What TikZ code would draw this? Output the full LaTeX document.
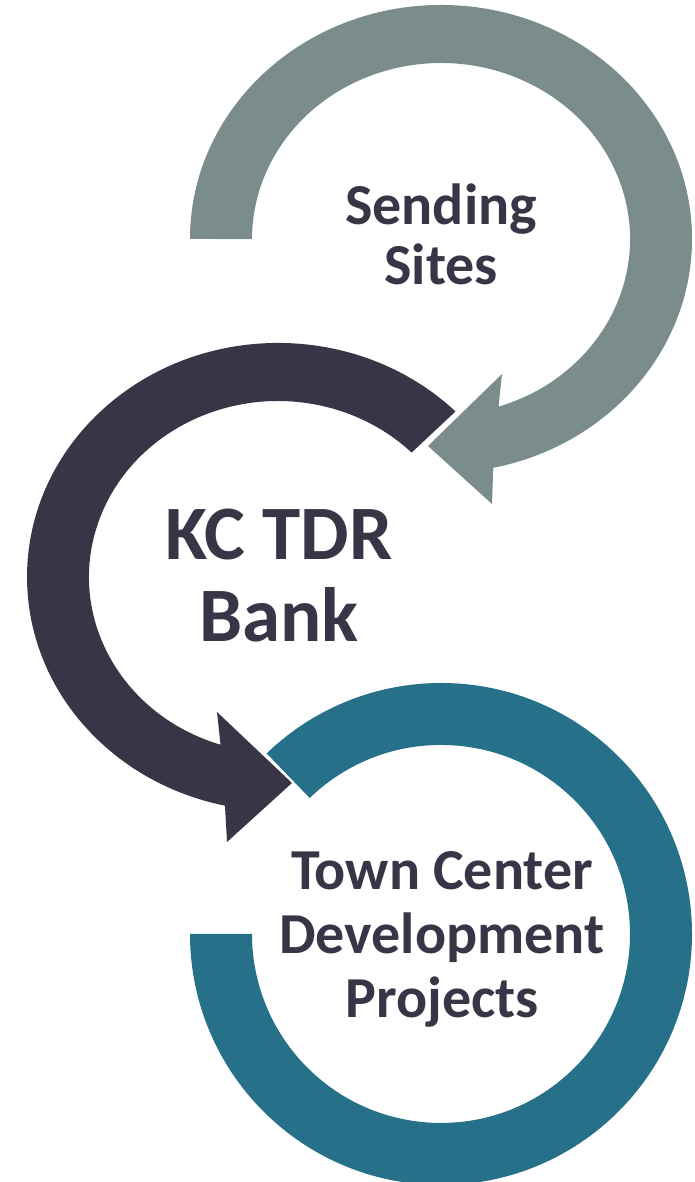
\documentclass[tikz,border=0pt]{standalone}
\usepackage{fontspec}
\setmainfont{Carlito}
\usepackage{xcolor}
\usepackage{tikz}
\definecolor{SageGray}{RGB}{122,140,140}
\definecolor{InkBlue}{RGB}{56,53,70}
\definecolor{HarborTeal}{RGB}{39,112,138}

\begin{document}
\begin{tikzpicture}[x=1pt, y=1pt,
    ringtext/.style={align=center, text=InkBlue, inner sep=0pt, anchor=base}]
  \useasboundingbox (0,0) rectangle (694,1182);
  % sending sites ring, head at lower right
  \fill[SageGray] (190,943) arc[start angle=180, end angle=-78, x radius=251, y radius=234]
    -- (492,678) -- (428,736) -- (502,808) -- (498.5,775.3)
    arc[start angle=-72.3, end angle=180, x radius=189, y radius=176] -- cycle;
  % bank ring, head at lower left
  \fill[InkBlue] (455.5,770.5) arc[start angle=45, end angle=257.8, x radius=251, y radius=234]
    -- (227,340) -- (292,399) -- (217,470) -- (220.5,437.3)
    arc[start angle=252.3, end angle=45, x radius=189, y radius=176] -- cycle;
  % projects ring
  \fill[HarborTeal] (190,248) arc[start angle=180, end angle=494, radius=251]
    -- (309.7,384) arc[start angle=494, end angle=180, radius=189] -- cycle;
  % base anchor sits on the last line
  \node[ringtext, font=\bfseries\fontsize{58}{60}\selectfont] (sending) at (441,897) {Sending\\Sites};
  \node[ringtext, font=\bfseries\fontsize{77}{82}\selectfont] (bank) at (279,540) {KC TDR\\Bank};
  \node[ringtext, font=\bfseries\fontsize{58}{64}\selectfont] (town) at (442,164) {Town Center\\Development\\Projects};
\end{tikzpicture}
\end{document}
